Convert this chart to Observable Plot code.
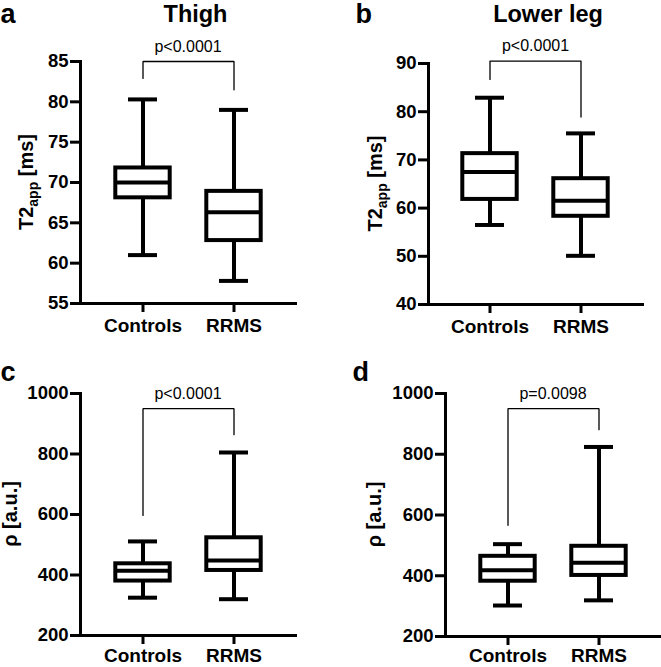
<!DOCTYPE html>
<html><head><meta charset="utf-8">
<script src="https://cdn.jsdelivr.net/npm/d3@7"></script>
<script src="https://cdn.jsdelivr.net/npm/@observablehq/plot@0.6"></script>
<style>
body{margin:0;background:#fff;}
#fig{position:relative;width:661px;height:667px;overflow:hidden;background:#fff;}
#fig svg{position:absolute;background:transparent;overflow:visible;}
#fig svg g[aria-label="y-axis tick label"]{font-weight:bold;font-size:18.5px;}
#fig svg g[aria-label="x-axis tick label"]{font-weight:bold;font-size:19px;}
</style></head><body><div id="fig"></div>
<script>
const groups = ["Controls", "RRMS"];
// five-number summaries: [min, Q1, median, Q3, max]
const thighT2Controls = [61.0, 68.1, 70.0, 71.8, 80.3];
const thighT2RRMS     = [57.8, 62.8, 66.3, 68.9, 79.0];
const legT2Controls   = [56.5, 61.8, 67.5, 71.3, 82.9];
const legT2RRMS       = [50.1, 58.3, 61.5, 66.1, 75.5];
const thighRhoControls = [325, 380, 414, 437, 511];
const thighRhoRRMS     = [320, 415, 448, 523, 805];
const legRhoControls   = [302, 382, 418, 464, 504];
const legRhoRRMS       = [319, 401, 443, 497, 824];
// axis ticks
const thighT2Ticks = [55, 60, 65, 70, 75, 80, 85];
const legT2Ticks = [40, 50, 60, 70, 80, 90];
const rhoTicks = [200, 400, 600, 800, 1000];
// significance brackets: [top, Controls leg end, RRMS leg end]
const thighT2Bracket = [85, 82.9, 81.5];
const legT2Bracket = [90.5, 86.7, 78.9];
const thighRhoBracket = [950, 597, 864];
const legRhoBracket = [950, 566, 881];
const pValues = ["p<0.0001", "p<0.0001", "p<0.0001", "p=0.0098"];
const panelLetters = ["a", "b", "c", "d"];
const panelTitles = ["Thigh", "Lower leg", "", ""];

const FONT = '"Liberation Sans", Arial, Helvetica, sans-serif';

function summary(ctrl, rrms) {
  return [ctrl, rrms].map((s, i) => ({group: groups[i], min: s[0], q1: s[1], median: s[2], q3: s[3], max: s[4]}));
}

function yLabel(main, sub, rest, offset) {
  return (index, scales, values, dims) => {
    const {marginLeft, marginTop, height, marginBottom} = dims;
    const cy = (marginTop + height - marginBottom) / 2;
    const t = d3.create("svg:text")
      .attr("transform", `translate(${marginLeft - offset},${cy}) rotate(-90)`)
      .attr("text-anchor", "middle")
      .attr("font-size", 20)
      .attr("font-weight", "bold")
      .attr("font-family", FONT)
      .attr("fill", "black");
    t.append("tspan").text(main);
    if (sub) {
      t.append("tspan").attr("font-size", 14).attr("dy", 5).text(sub);
      t.append("tspan").attr("dy", -5).text(rest);
    } else {
      t.append("tspan").text(rest);
    }
    return t.node();
  };
}

function panel(cfg) {
  const data = summary(cfg.ctrl, cfg.rrms);
  const [top, legL, legR] = cfg.bracket;
  const bracket = [
    {group: groups[0], v: legL}, {group: groups[0], v: top},
    {group: groups[1], v: top}, {group: groups[1], v: legR}
  ];
  const marks = [
    Plot.frame({anchor: "left", stroke: "black", strokeWidth: 3, strokeLinecap: "square"}),
    Plot.frame({anchor: "bottom", stroke: "black", strokeWidth: 3, strokeLinecap: "square"}),
    Plot.axisY({ticks: cfg.ticks, tickSize: 10, tickPadding: 2, strokeWidth: 3, label: null,
      fontSize: 18.5, fontWeight: "bold", tickFormat: d => String(d)}),
    Plot.axisX({tickSize: 9, tickPadding: cfg.xPad, strokeWidth: 3, label: null, fontSize: 19, fontWeight: "bold"}),
    Plot.ruleX(data, {x: "group", y1: "min", y2: "max", stroke: "black", strokeWidth: 4}),
    Plot.tickY(data, {x: "group", y: "min", stroke: "black", strokeWidth: 4, insetLeft: 31, insetRight: 31}),
    Plot.tickY(data, {x: "group", y: "max", stroke: "black", strokeWidth: 4, insetLeft: 31, insetRight: 31}),
    Plot.barY(data, {x: "group", y1: "q1", y2: "q3", fill: "white", stroke: "black", strokeWidth: 4, insetLeft: 18.3, insetRight: 18.3}),
    Plot.tickY(data, {x: "group", y: "median", stroke: "black", strokeWidth: 4, insetLeft: 18.3, insetRight: 18.3}),
    Plot.line(bracket, {x: "group", y: "v", stroke: "black", strokeWidth: 1.3, strokeLinejoin: "miter"}),
    Plot.text([cfg.p], {frameAnchor: "middle", y: () => top, text: d => d, lineAnchor: "bottom", dy: -10,
      fontSize: 16, fontWeight: "normal"}),
    Plot.text([cfg.letter], {frameAnchor: "top-left", text: d => d, textAnchor: "start", lineAnchor: "bottom",
      dx: cfg.letterDx, dy: cfg.letterDy, fontSize: 27, fontWeight: "bold"}),
    yLabel(cfg.label[0], cfg.label[1], cfg.label[2], cfg.labelOffset)
  ];
  if (cfg.title) marks.push(Plot.text([cfg.title], {frameAnchor: "top", text: d => d, lineAnchor: "bottom",
      dx: cfg.titleDx, dy: cfg.titleDy, fontSize: 23.5, fontWeight: "bold"}));
  const svg = Plot.plot({
    width: cfg.width, height: cfg.height,
    marginLeft: cfg.ml, marginRight: cfg.mr, marginTop: cfg.mt, marginBottom: cfg.mb,
    style: {fontFamily: FONT, fontWeight: "bold", color: "black", background: "transparent", overflow: "visible"},
    x: {domain: groups, type: "band", paddingInner: 0, paddingOuter: 0.174},
    y: {domain: [cfg.ticks[0], cfg.ticks[cfg.ticks.length - 1]]},
    marks
  });
  svg.style.left = cfg.left + "px";
  svg.style.top = cfg.top + "px";
  document.getElementById("fig").appendChild(svg);
}

panel({left: 0, top: 0, width: 330, height: 340, ml: 80, mr: 35, mt: 61, mb: 37, xPad: 6,
  ctrl: thighT2Controls, rrms: thighT2RRMS, ticks: thighT2Ticks, bracket: thighT2Bracket,
  p: pValues[0], letter: panelLetters[0], letterDx: -80, letterDy: -39,
  title: panelTitles[0], titleDx: 7.5, titleDy: -40,
  label: ["T2", "app", " [ms]"], labelOffset: 47});
panel({left: 330, top: 0, width: 331, height: 340, ml: 98, mr: 19, mt: 63, mb: 36, xPad: 6,
  ctrl: legT2Controls, rrms: legT2RRMS, ticks: legT2Ticks, bracket: legT2Bracket,
  p: pValues[1], letter: panelLetters[1], letterDx: -73, letterDy: -41,
  title: panelTitles[1], titleDx: 12.5, titleDy: -42,
  label: ["T2", "app", " [ms]"], labelOffset: 46});
panel({left: 0, top: 330, width: 330, height: 337, ml: 80, mr: 35, mt: 63, mb: 32, xPad: 4,
  ctrl: thighRhoControls, rrms: thighRhoRRMS, ticks: rhoTicks, bracket: thighRhoBracket,
  p: pValues[2], letter: panelLetters[2], letterDx: -80, letterDy: -13,
  title: panelTitles[2],
  label: ["ρ [a.u.]", null, null], labelOffset: 63});
panel({left: 330, top: 330, width: 331, height: 337, ml: 115, mr: 1, mt: 63, mb: 31, xPad: 3,
  ctrl: legRhoControls, rrms: legRhoRRMS, ticks: rhoTicks, bracket: legRhoBracket,
  p: pValues[3], letter: panelLetters[3], letterDx: -93, letterDy: -13,
  title: panelTitles[3],
  label: ["ρ [a.u.]", null, null], labelOffset: 64});
</script></body></html>
